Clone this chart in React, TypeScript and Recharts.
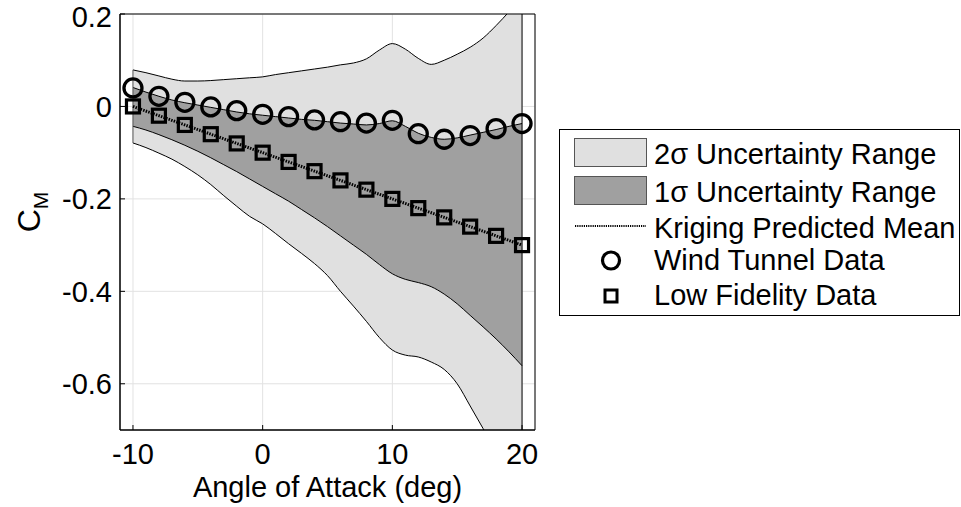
import React from "react";
import {
  ComposedChart,
  Area,
  Line,
  Scatter,
  XAxis,
  YAxis,
  CartesianGrid,
  ReferenceLine,
  ReferenceArea,
} from "recharts";

// band edges at every degree
const angles = [
  -10, -9, -8, -7, -6, -5, -4, -3, -2, -1, 0, 1, 2, 3, 4, 5, 6, 7, 8, 9, 10, 11, 12, 13, 14, 15, 16, 17, 18, 19, 20,
];
const upper2 = [
  0.079, 0.073, 0.066, 0.059, 0.055, 0.055, 0.056, 0.058, 0.06, 0.062, 0.064, 0.069, 0.073, 0.077, 0.081, 0.085,
  0.09, 0.094, 0.103, 0.122, 0.136, 0.124, 0.104, 0.091, 0.1, 0.113, 0.128, 0.148, 0.175, 0.205, 0.237,
];
const lower2 = [
  -0.079, -0.089, -0.101, -0.114, -0.13, -0.148, -0.169, -0.193, -0.216, -0.238, -0.254, -0.275, -0.297, -0.318,
  -0.34, -0.366, -0.4, -0.432, -0.465, -0.5, -0.527, -0.538, -0.542, -0.553, -0.569, -0.6, -0.648, -0.697, -0.745,
  -0.795, -0.845,
];
const upper1 = [
  0.041, 0.031, 0.022, 0.014, 0.008, 0.003, -0.002, -0.007, -0.012, -0.016, -0.019, -0.022, -0.025, -0.028, -0.03,
  -0.033, -0.036, -0.038, -0.04, -0.037, -0.031, -0.043, -0.058, -0.067, -0.071, -0.068, -0.062, -0.056, -0.05,
  -0.043, -0.037,
];
const lower1 = [
  -0.043, -0.051, -0.061, -0.072, -0.084, -0.097, -0.111, -0.126, -0.141, -0.157, -0.173, -0.189, -0.205, -0.223,
  -0.241, -0.26, -0.28, -0.3, -0.32, -0.342, -0.362, -0.374, -0.381, -0.39, -0.406, -0.427, -0.452, -0.477, -0.503,
  -0.531, -0.561,
];

// sample points
const sampleAngles = [-10, -8, -6, -4, -2, 0, 2, 4, 6, 8, 10, 12, 14, 16, 18, 20];
const windTunnel = [
  0.04, 0.022, 0.009, -0.001, -0.009, -0.017, -0.022, -0.029, -0.033, -0.036, -0.03, -0.059, -0.071, -0.063, -0.048,
  -0.037,
];
const lowFidelity = [
  0, -0.02, -0.04, -0.06, -0.08, -0.1, -0.12, -0.14, -0.16, -0.18, -0.2, -0.22, -0.24, -0.26, -0.28, -0.3,
];
const krigingMean = [
  0, -0.02, -0.04, -0.06, -0.08, -0.1, -0.12, -0.14, -0.16, -0.18, -0.2, -0.22, -0.24, -0.26, -0.28, -0.3,
];

const xTicks = [-10, 0, 10, 20];
const yTicks = [-0.6, -0.4, -0.2, 0, 0.2];
const xDomain = [-11, 21];
const yDomain = [-0.7, 0.2];

const bandRows = angles.map((a, i) => ({
  angle: a,
  band2: [lower2[i], upper2[i]],
  band1: [lower1[i], upper1[i]],
}));
const wtRows = sampleAngles.map((a, i) => ({ angle: a, cm: windTunnel[i] }));
const lfRows = sampleAngles.map((a, i) => ({ angle: a, cm: lowFidelity[i] }));
const meanRows = sampleAngles.map((a, i) => ({ angle: a, cm: krigingMean[i] }));

const FONT = "'Liberation Sans', Arial, Helvetica, sans-serif";
const FS = 29;
const LIGHT = "#e0e0e0";
const DARK = "#a0a0a0";

const CircleMark = ({ cx, cy }: any) => (
  <circle cx={cx} cy={cy} r={9} fill="none" stroke="#000" strokeWidth={3.3} />
);
const SquareMark = ({ cx, cy }: any) => (
  <rect x={cx - 6.5} y={cy - 6.5} width={13} height={13} fill="none" stroke="#000" strokeWidth={3.2} />
);

const CmLabel = () => (
  <text transform="rotate(-90, 40, 212)" x={40} y={212} textAnchor="middle" fontFamily={FONT} fill="#000">
    <tspan fontSize={32}>C</tspan>
    <tspan fontSize={21} dy={8}>
      M
    </tspan>
  </text>
);

function LegendBox() {
  const text = { fontFamily: FONT, fontSize: FS, fill: "#000" };
  return (
    <svg width={402} height={192} style={{ position: "absolute", left: 559, top: 128 }}>
      <rect x={0.5} y={1.5} width={400} height={186} fill="#fff" stroke="#000" />
      <rect x={15.5} y={10.5} width={72} height={28} fill={LIGHT} stroke="#555" />
      <text x={95} y={36} {...text}>2σ Uncertainty Range</text>
      <rect x={15.5} y={48.5} width={72} height={28} fill={DARK} stroke="#555" />
      <text x={95} y={74} {...text}>1σ Uncertainty Range</text>
      <line x1={16} x2={87} y1={98} y2={98} stroke="#000" strokeWidth={2.2} strokeDasharray="1.2 1" />
      <text x={95} y={110} {...text}>Kriging Predicted Mean</text>
      <circle cx={52} cy={132.5} r={8.5} fill="none" stroke="#000" strokeWidth={3.2} />
      <text x={95} y={142} {...text}>Wind Tunnel Data</text>
      <rect x={46} y={162} width={12} height={12} fill="none" stroke="#000" strokeWidth={3} />
      <text x={95} y={177} {...text}>Low Fidelity Data</text>
    </svg>
  );
}

export default function App() {
  const last = angles.length - 1;
  const tickStyle = { fontSize: FS, fill: "#000", fontFamily: FONT };
  return (
    <div style={{ position: "absolute", left: 0, top: 0, width: 961, height: 507, background: "#fff" }}>
      <ComposedChart width={961} height={507} data={bandRows} margin={{ top: 14, right: 426, bottom: 0, left: 0 }}>
        <CartesianGrid stroke="#e2e2e2" strokeWidth={1} />
        <XAxis
          type="number"
          dataKey="angle"
          domain={xDomain}
          ticks={xTicks}
          allowDataOverflow
          height={77}
          tickSize={-5}
          tickMargin={18}
          tickLine={{ stroke: "#000" }}
          axisLine={{ stroke: "#000" }}
          tick={tickStyle}
          label={{
            value: "Angle of Attack (deg)",
            position: "insideBottom",
            offset: 10,
            fontSize: FS,
            fill: "#000",
            fontFamily: FONT,
          }}
        />
        <XAxis
          xAxisId="top"
          orientation="top"
          type="number"
          dataKey="angle"
          domain={xDomain}
          ticks={xTicks}
          allowDataOverflow
          height={0}
          tickSize={-5}
          tick={false}
          tickLine={{ stroke: "#000" }}
          axisLine={{ stroke: "#000" }}
        />
        <YAxis
          type="number"
          domain={yDomain}
          ticks={yTicks}
          allowDataOverflow
          width={120}
          tickSize={-5}
          tickMargin={13}
          tickLine={{ stroke: "#000" }}
          axisLine={{ stroke: "#000" }}
          tick={tickStyle}
          tickFormatter={(v: number) => (v === 0 ? "0" : v.toFixed(1))}
          label={<CmLabel />}
        />
        <YAxis
          yAxisId="right"
          orientation="right"
          type="number"
          domain={yDomain}
          ticks={yTicks}
          allowDataOverflow
          width={0}
          tickSize={-5}
          tick={false}
          tickLine={{ stroke: "#000" }}
          axisLine={{ stroke: "#000" }}
        />
        <Area
          dataKey="band2"
          type="monotone"
          fill={LIGHT}
          fillOpacity={1}
          stroke="#000"
          strokeWidth={1}
          isAnimationActive={false}
          dot={false}
          activeDot={false}
        />
        <Area
          dataKey="band1"
          type="monotone"
          fill={DARK}
          fillOpacity={1}
          stroke="#000"
          strokeWidth={1}
          isAnimationActive={false}
          dot={false}
          activeDot={false}
        />
        <ReferenceLine
          segment={[
            { x: angles[0], y: lower2[0] },
            { x: angles[0], y: upper2[0] },
          ]}
          stroke="#555"
          ifOverflow="hidden"
        />
        <ReferenceLine
          segment={[
            { x: angles[last], y: lower2[last] },
            { x: angles[last], y: upper2[last] },
          ]}
          stroke="#000"
          ifOverflow="hidden"
        />
        <Line
          data={meanRows}
          dataKey="cm"
          type="linear"
          stroke="#000"
          strokeWidth={3}
          strokeDasharray="1.5 1.2"
          dot={false}
          activeDot={false}
          isAnimationActive={false}
        />
        <Scatter data={wtRows} dataKey="cm" shape={<CircleMark />} isAnimationActive={false} />
        <Scatter data={lfRows} dataKey="cm" shape={<SquareMark />} isAnimationActive={false} />
        <ReferenceArea x1={xDomain[0]} x2={xDomain[1]} y1={yDomain[0]} y2={yDomain[1]} fill="none" stroke="#000" />
      </ComposedChart>
      <LegendBox />
    </div>
  );
}
